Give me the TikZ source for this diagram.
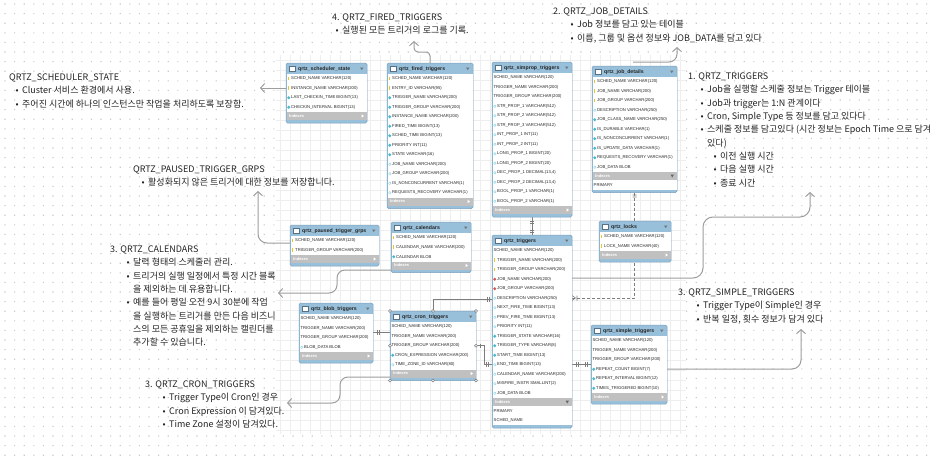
\documentclass[tikz,border=0pt]{standalone}
\usepackage{fontspec}
\setmainfont{Noto Sans CJK KR}
\newfontfamily\tblfont{Liberation Sans}
\usetikzlibrary{arrows.meta,calc,positioning}

\definecolor{tblue}{RGB}{152,192,218}
\definecolor{tborder}{RGB}{125,160,188}
\definecolor{idxgray}{RGB}{192,192,192}
\definecolor{keyyel}{RGB}{238,196,40}
\definecolor{colcyan}{RGB}{70,185,205}
\definecolor{colred}{RGB}{215,85,85}
\definecolor{gridc}{RGB}{238,238,238}
\definecolor{dotc}{RGB}{200,200,200}
\definecolor{annc}{RGB}{158,158,158}
\definecolor{relc}{RGB}{125,125,125}
\definecolor{txtc}{RGB}{35,35,35}

\pgfdeclarelayer{canvas}
\pgfdeclarelayer{links}
\pgfsetlayers{canvas,links,main}

\tikzset{
  tbl/.style={draw=tborder, fill=tblue, rounded corners=1.5pt, line width=0.5pt,
    inner sep=0pt, outer sep=0pt},
  coltext/.style={font=\tblfont\fontsize{4.2}{5}\selectfont, text=black!85,
    inner sep=0pt, anchor=west},
  tbltitle/.style={font=\tblfont\bfseries\fontsize{5.2}{6}\selectfont, text=black!85,
    inner sep=0pt, anchor=west},
  idxtext/.style={font=\tblfont\bfseries\fontsize{4}{5}\selectfont, text=white,
    inner sep=0pt, anchor=west},
  note/.style={font=\fontsize{9}{13.3}\selectfont, text=txtc, align=left,
    anchor=north west, inner sep=0pt},
  annot/.style={draw=annc, line width=1pt, -{Straight Barb[length=4pt,width=9pt]}},
  rel/.style={draw=relc, line width=0.6pt},
  reldash/.style={rel, dash pattern=on 3pt off 2pt},
  handle/.style={circle, draw=relc, fill=white, line width=0.4pt, inner sep=0pt,
    minimum size=3pt},
}

% column icons
\newcommand{\ericonk}[2]{\fill[keyyel] (#1-0.6,#2-1.9) rectangle (#1+0.6,#2+1.4);}
\newcommand{\ericonc}[2]{\fill[colcyan] (#1,#2-1.6) -- (#1+1.6,#2) -- (#1,#2+1.6) -- (#1-1.6,#2) -- cycle;}
\newcommand{\ericonh}[2]{\draw[colcyan!70, line width=0.35pt, fill=white] (#1,#2-1.3) -- (#1+1.3,#2) -- (#1,#2+1.3) -- (#1-1.3,#2) -- cycle;}
\newcommand{\ericonr}[2]{\fill[colred] (#1,#2-1.6) -- (#1+1.6,#2) -- (#1,#2+1.6) -- (#1-1.6,#2) -- cycle;}
\newcommand{\ericonn}[2]{}

% [footer rows]{name}{x}{y}{width}{title}{columns}
\newcommand{\ertable}[7][]{%
  \foreach \ic/\txt [count=\i] in {#7} {\xdef\ern{\i}}%
  \gdef\erfn{0}%
  \ifx\relax#1\relax\else\foreach \ft [count=\j] in {#1} {\xdef\erfn{\j}}\fi
  \pgfmathsetmacro\erbody{#4+11+9.5*\ern}%
  \pgfmathsetmacro\erfoot{\erbody+8}%
  \pgfmathsetmacro\erbot{\erfoot+9.5*\erfn+3}%
  \pgfmathsetmacro\erh{\erbot-#4}%
  \pgfmathsetmacro\erxr{#3+#5}%
  \node[tbl, minimum width=#5pt, minimum height=\erh pt, anchor=north west] (#2) at (#3,#4) {};
  \fill[white] (#3+0.5,#4+11) rectangle (\erxr-0.5,\erbody);
  \fill[idxgray] (#3+0.5,\erbody) rectangle (\erxr-0.5,\erfoot);
  \ifx\relax#1\relax
    \fill[white] (\erxr-5.5,\erbody+2.3) -- (\erxr-3,\erbody+4) -- (\erxr-5.5,\erbody+5.7) -- cycle;
  \else
    \fill[white] (#3+0.5,\erfoot) rectangle (\erxr-0.5,\erbot-3);
    \fill[black!60] (\erxr-6.5,\erbody+2.5) -- (\erxr-3,\erbody+2.5) -- (\erxr-4.75,\erbody+5.5) -- cycle;
    \foreach \ft [count=\j] in {#1} {\node[coltext] at (#3+1.5,\erfoot+9.5*\j-4.75) {\ft};}
  \fi
  \node[idxtext] at (#3+3,\erbody+4) {Indexes};
  \draw[tborder!70!black, fill=white, line width=0.4pt] (#3+3,#4+3.5) rectangle (#3+9,#4+8);
  \node[tbltitle] at (#3+12,#4+5.7) {#6};
  \fill[black!55] (\erxr-7,#4+4.5) -- (\erxr-3.5,#4+4.5) -- (\erxr-5.25,#4+7) -- cycle;
  \foreach \ic/\txt [count=\i] in {#7} {
    \pgfmathsetmacro\ry{#4+6.25+9.5*\i}
    \if n\ic \def\tx{1.3}\else\def\tx{5}\fi
    \csname ericon\ic\endcsname{#3+2.8}{\ry}
    \node[coltext] at (#3+\tx,\ry) {\txt};
  }%
}

\newcommand{\bul}[2][24pt]{\makebox[#1][r]{\textbullet\hspace{3.5pt}}#2}

\begin{document}
\begin{tikzpicture}[x=1pt,y=-1pt]
\useasboundingbox (0,0) rectangle (940,463);

\begin{pgfonlayer}{canvas}
\fill[white] (0,0) rectangle (940,463);
\foreach \y in {4,13.6,...,460}
  \fill[dotc] \foreach \x in {5,14.6,...,936} {(\x-0.55,\y-0.55) rectangle (\x+0.55,\y+0.55)};
% workbench screenshot
\fill[white] (276,55) rectangle (686,434);
\foreach \gx in {280,290,...,680} \draw[gridc, line width=0.25pt] (\gx,55) -- (\gx,434);
\foreach \gy in {60,70,...,430} \draw[gridc, line width=0.25pt] (276,\gy) -- (686,\gy);
\end{pgfonlayer}

% tables
\ertable{sched}{286}{63}{81}{qrtz\_scheduler\_state}{k/SCHED\_NAME VARCHAR(120),
  k/INSTANCE\_NAME VARCHAR(200), c/LAST\_CHECKIN\_TIME BIGINT(13), c/CHECKIN\_INTERVAL BIGINT(13)}
\ertable{fired}{387}{63}{86}{qrtz\_fired\_triggers}{k/SCHED\_NAME VARCHAR(120),
  k/ENTRY\_ID VARCHAR(95), c/TRIGGER\_NAME VARCHAR(200), c/TRIGGER\_GROUP VARCHAR(200),
  c/INSTANCE\_NAME VARCHAR(200), c/FIRED\_TIME BIGINT(13), c/SCHED\_TIME BIGINT(13),
  c/PRIORITY INT(11), c/STATE VARCHAR(16), h/JOB\_NAME VARCHAR(200), h/JOB\_GROUP VARCHAR(200),
  h/IS\_NONCONCURRENT VARCHAR(1), h/REQUESTS\_RECOVERY VARCHAR(1)}
\ertable{simprop}{492}{62}{80}{qrtz\_simprop\_triggers}{n/SCHED\_NAME VARCHAR(120),
  n/TRIGGER\_NAME VARCHAR(200), n/TRIGGER\_GROUP VARCHAR(200), h/STR\_PROP\_1 VARCHAR(512),
  h/STR\_PROP\_2 VARCHAR(512), h/STR\_PROP\_3 VARCHAR(512), h/INT\_PROP\_1 INT(11),
  h/INT\_PROP\_2 INT(11), h/LONG\_PROP\_1 BIGINT(20), h/LONG\_PROP\_2 BIGINT(20),
  h/{DEC\_PROP\_1 DECIMAL(13,4)}, h/{DEC\_PROP\_2 DECIMAL(13,4)}, h/BOOL\_PROP\_1 VARCHAR(1),
  h/BOOL\_PROP\_2 VARCHAR(1)}
\ertable[PRIMARY]{jobdet}{592}{66}{85}{qrtz\_job\_details}{k/SCHED\_NAME VARCHAR(120),
  k/JOB\_NAME VARCHAR(200), k/JOB\_GROUP VARCHAR(200), h/DESCRIPTION VARCHAR(250),
  c/JOB\_CLASS\_NAME VARCHAR(250), c/IS\_DURABLE VARCHAR(1), c/IS\_NONCONCURRENT VARCHAR(1),
  c/IS\_UPDATE\_DATA VARCHAR(1), c/REQUESTS\_RECOVERY VARCHAR(1), h/JOB\_DATA BLOB}
\ertable{locks}{599}{221}{72}{qrtz\_locks}{k/SCHED\_NAME VARCHAR(120), k/LOCK\_NAME VARCHAR(40)}
\ertable{paused}{290}{225}{89}{qrtz\_paused\_trigger\_grps}{k/SCHED\_NAME VARCHAR(120),
  k/TRIGGER\_GROUP VARCHAR(200)}
\ertable{cal}{391}{222}{80}{qrtz\_calendars}{k/SCHED\_NAME VARCHAR(120),
  k/CALENDAR\_NAME VARCHAR(200), c/CALENDAR BLOB}
\ertable[PRIMARY,SCHED\_NAME]{trig}{492}{235}{80}{qrtz\_triggers}{n/SCHED\_NAME VARCHAR(120),
  k/TRIGGER\_NAME VARCHAR(200), k/TRIGGER\_GROUP VARCHAR(200), r/JOB\_NAME VARCHAR(200),
  r/JOB\_GROUP VARCHAR(200), h/DESCRIPTION VARCHAR(250), h/NEXT\_FIRE\_TIME BIGINT(13),
  h/PREV\_FIRE\_TIME BIGINT(13), h/PRIORITY INT(11), c/TRIGGER\_STATE VARCHAR(16),
  c/TRIGGER\_TYPE VARCHAR(8), c/START\_TIME BIGINT(13), h/END\_TIME BIGINT(13),
  h/CALENDAR\_NAME VARCHAR(200), h/MISFIRE\_INSTR SMALLINT(2), h/JOB\_DATA BLOB}
\ertable{blob}{299}{303}{74}{qrtz\_blob\_triggers}{n/SCHED\_NAME VARCHAR(120),
  n/TRIGGER\_NAME VARCHAR(200), n/TRIGGER\_GROUP VARCHAR(200), h/BLOB\_DATA BLOB}
\ertable{cron}{390}{311}{86}{qrtz\_cron\_triggers}{n/SCHED\_NAME VARCHAR(120),
  n/TRIGGER\_NAME VARCHAR(200), n/TRIGGER\_GROUP VARCHAR(200), c/CRON\_EXPRESSION VARCHAR(200),
  h/TIME\_ZONE\_ID VARCHAR(80)}
\ertable{simple}{591}{325}{76}{qrtz\_simple\_triggers}{n/SCHED\_NAME VARCHAR(120),
  n/TRIGGER\_NAME VARCHAR(200), n/TRIGGER\_GROUP VARCHAR(200), c/REPEAT\_COUNT BIGINT(7),
  c/REPEAT\_INTERVAL BIGINT(12), c/TIMES\_TRIGGERED BIGINT(10)}

% selected table
\foreach \a [count=\k] in {north west,north,north east,west,east,south west,south,south east}
  \node[handle] (hd\k) at (cron.\a) {};

% relationships
\begin{pgfonlayer}{links}
\draw[rel] (simprop.south) -- (trig.north);
\draw[rel] (530,221.5) -- (534,221.5) (530,223.5) -- (534,223.5)
  (530,230) -- (534,230) (530,232) -- (534,232);
\draw[reldash] (jobdet.south) |- (trig.east |- 0,298);
\draw[rel] (632.5,195) -- (636.5,195) (632.5,197) -- (636.5,197)
  (577,295.5) -- (577,300.5) (572,295.5) -- (575.5,298) -- (572,300.5);
\draw[rel] (trig.east |- 0,364) -- (simple.west |- 0,364);
\draw[rel] (576,361.5) -- (576,366.5) (578,361.5) -- (578,366.5)
  (585,361.5) -- (585,366.5) (587,361.5) -- (587,366.5);
\draw[rel] (cron.east) -- ++(8,0) |- (trig.west |- 0,364);
\draw[rel] (480,343.5) -- (480,348) (486,361.5) -- (486,366.5) (488,361.5) -- (488,366.5);
\draw[rel] (blob.east |- 0,332) -| (cron.north |- 0,299) -- (trig.west |- 0,299);
\draw[rel] (377,329.5) -- (377,334.5) (379,329.5) -- (379,334.5)
  (487,296.5) -- (487,301.5) (489,296.5) -- (489,301.5);
\end{pgfonlayer}

% notes
\coordinate (jdtop) at (633,62);
\draw[annot] (sched.west |- 0,88) -- (260,88);
\draw[annot, rounded corners=4pt] (fired.north) -- (430,52) -- (414,52) -- (414,41);
\draw[annot, rounded corners=8pt] (jdtop) -- (677,62) -- (677,47);
\draw[annot, rounded corners=9pt] (paused.west |- 0,243) -- (258,243) -- (258,191);
\draw[annot, rounded corners=8pt] (cal.west |- 0,270) -- (337,270) -- (337,293) -- (278,293);
\draw[annot, rounded corners=8pt] (cron.west |- 0,377) -- (340,377) -- (340,403) -- (287,403);
\draw[annot, rounded corners=9pt] (simple.east |- 0,369) -- (801,369) -- (801,329);
\draw[annot, rounded corners=10pt] (trig.east |- 0,278) -- (703,278) -- (703,217)
  -- (810,217) -- (810,192);

\node[note] (nsched) at (9,73.7) {QRTZ\_SCHEDULER\_STATE\\
  \bul[13pt]{Cluster 서비스 환경에서 사용.}\\
  \bul[13pt]{주어진 시간에 하나의 인스턴스만 작업을 처리하도록 보장함.}};
\node[note] (nfired) at (332,13.7) {4. QRTZ\_FIRED\_TRIGGERS\\
  \bul[10pt]{실행된 모든 트리거의 로그를 기록.}};
\node[note] (njob) at (553,7.7) {2. QRTZ\_JOB\_DETAILS\\
  \bul[24pt]{Job 정보를 담고 있는 테이블}\\
  \bul[24pt]{이름, 그룹 및 옵션 정보와 JOB\_DATA를 담고 있다}};
\node[note] (ntrig) at (688,72.7) {1. QRTZ\_TRIGGERS\\
  \bul[19pt]{Job을 실행할 스케줄 정보는 Trigger 테이블}\\
  \bul[19pt]{Job과 trigger는 1:N 관계이다}\\
  \bul[19pt]{Cron, Simple Type 등 정보를 담고 있다다}\\
  \bul[19pt]{스케줄 정보를 담고있다 (시간 정보는 Epoch Time 으로 담겨}\\
  \hspace*{19pt}있다)\\
  \bul[32pt]{이전 실행 시간}\\
  \bul[32pt]{다음 실행 시간}\\
  \bul[32pt]{종료 시간}};
\node[note] (npaused) at (133,165.7) {QRTZ\_PAUSED\_TRIGGER\_GRPS\\
  \bul[15pt]{활성화되지 않은 트리거에 대한 정보를 저장합니다.}};
\node[note] (ncal) at (110,245.7) {3. QRTZ\_CALENDARS\\
  \bul[23pt]{달력 형태의 스케줄러 관리.}\\
  \bul[23pt]{트리거의 실행 일정에서 특정 시간 블록}\\
  \hspace*{23pt}을 제외하는 데 유용합니다.\\
  \bul[23pt]{예를 들어 평일 오전 9시 30분에 작업}\\
  \hspace*{23pt}을 실행하는 트리거를 만든 다음 비즈니\\
  \hspace*{23pt}스의 모든 공휴일을 제외하는 캘린더를\\
  \hspace*{23pt}추가할 수 있습니다.};
\node[note] (ncron) at (145,380.7) {3. QRTZ\_CRON\_TRIGGERS\\
  \bul[24pt]{Trigger Type이 Cron인 경우}\\
  \bul[24pt]{Cron Expression 이 담겨있다.}\\
  \bul[24pt]{Time Zone 설정이 담겨있다.}};
\node[note] (nsimple) at (678,288.7) {3. QRTZ\_SIMPLE\_TRIGGERS\\
  \bul[25pt]{Trigger Type이 Simple인 경우}\\
  \bul[25pt]{반복 일정, 횟수 정보가 담겨 있다}};

\end{tikzpicture}
\end{document}
